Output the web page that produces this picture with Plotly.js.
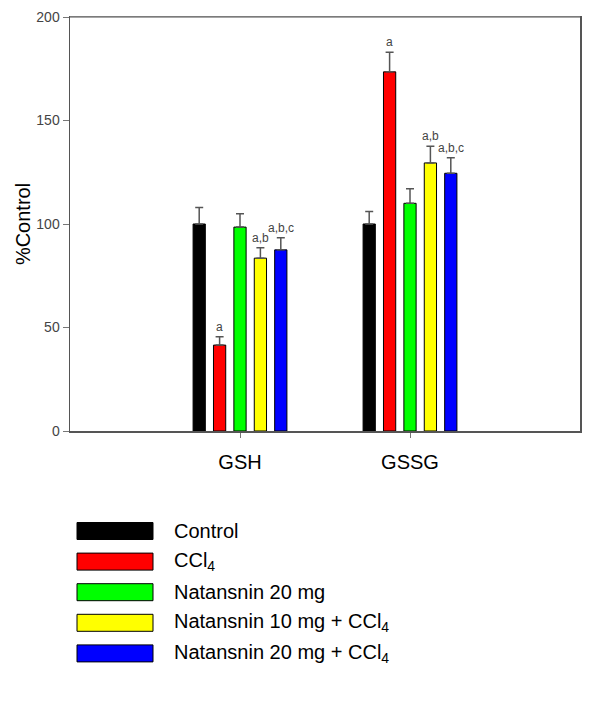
<!DOCTYPE html>
<html>
<head>
<meta charset="utf-8">
<script src="https://cdn.plot.ly/plotly-3.0.1.min.js"></script>
<style>html,body{margin:0;padding:0;background:#fff;}#chart{width:600px;height:709px;}</style>
</head>
<body>
<div id="chart"></div>
<script>
// ---- data ----
const categories = ["GSH", "GSSG"];
const seriesNames = ["Control", "CCl<sub>4</sub>", "Natansnin 20 mg", "Natansnin 10 mg + CCl<sub>4</sub>", "Natansnin 20 mg + CCl<sub>4</sub>"];
const control = [100, 100];
const ccl4 = [41.5, 173.5];
const nat20 = [98.5, 110];
const nat10ccl4 = [83.5, 129.5];
const nat20ccl4 = [87.5, 124.5];
const controlErr = [8, 6];
const ccl4Err = [4, 9.5];
const nat20Err = [6.5, 7];
const nat10ccl4Err = [5, 8];
const nat20ccl4Err = [5.8, 7.5];
const controlSig = ["", ""];
const ccl4Sig = ["a", "a"];
const nat20Sig = ["", ""];
const nat10ccl4Sig = ["a,b", "a,b"];
const nat20ccl4Sig = ["a,b,c", "a,b,c"];
const yTickVals = [0, 50, 100, 150, 200];

// ---- styles ----
const colors = ["#000000", "#ff0000", "#00ff00", "#ffff00", "#0000ff"];
const values = [control, ccl4, nat20, nat10ccl4, nat20ccl4];
const errs = [controlErr, ccl4Err, nat20Err, nat10ccl4Err, nat20ccl4Err];
const sigs = [controlSig, ccl4Sig, nat20Sig, nat10ccl4Sig, nat20ccl4Sig];
const FONT = "Liberation Sans, Arial, sans-serif";
const bargap = 0.4, bargroupgap = 0.4;

const traces = values.map((v, i) => ({
  type: "bar",
  x: categories,
  y: v,
  name: seriesNames[i],
  marker: {color: colors[i], line: {color: "#000", width: 1}},
  error_y: {type: "data", array: errs[i], arrayminus: errs[i].map(() => 0), symmetric: false,
            color: "#555", thickness: 1.5, width: 4},
  showlegend: false,
  hoverinfo: "none"
}));

const n = values.length;
const slot = (1 - bargap) / n;
const annotations = [];
values.forEach((v, i) => {
  v.forEach((val, c) => {
    if (!sigs[i][c]) return;
    annotations.push({
      xref: "x", yref: "y",
      x: c + (i - (n - 1) / 2) * slot,
      y: val + errs[i][c],
      text: sigs[i][c], showarrow: false,
      yanchor: "bottom", yshift: 1,
      font: {family: FONT, size: 12, color: "#444"}
    });
  });
});

// custom legend (paper coords relative to plot area)
const plotL = 70, plotR = 580, plotT = 17, plotB = 431;
const px2x = p => (p - plotL) / (plotR - plotL);
const py2y = p => (plotB - p) / (plotB - plotT);
const shapes = [];
seriesNames.forEach((name, i) => {
  const cy = 531 + i * 30.6;
  shapes.push({type: "rect", xref: "paper", yref: "paper",
    x0: px2x(77), x1: px2x(153), y0: py2y(cy + 8.5), y1: py2y(cy - 8.5),
    fillcolor: colors[i], line: {color: "#000", width: 1}});
  annotations.push({xref: "paper", yref: "paper", x: px2x(172), y: py2y(cy),
    xanchor: "left", yanchor: "middle", text: name, showarrow: false,
    font: {family: FONT, size: 20, color: "#000"}});
});
// lighter top frame line
shapes.push({type: "line", xref: "paper", yref: "paper", x0: 0, x1: 1, y0: 1, y1: 1,
  line: {color: "#888", width: 1.5}});

const layout = {
  width: 600, height: 709,
  margin: {l: plotL, r: 600 - plotR, t: plotT, b: 709 - plotB},
  paper_bgcolor: "#fff", plot_bgcolor: "#fff",
  barmode: "group", bargap: bargap, bargroupgap: bargroupgap,
  font: {family: FONT},
  xaxis: {
    type: "category", range: [-1, 2],
    showline: true, linecolor: "#555", linewidth: 1.5, mirror: true,
    ticks: "outside", ticklen: 5, tickcolor: "#777",
    ticklabelstandoff: 7,
    tickfont: {family: FONT, size: 20, color: "#000"},
    showgrid: false, zeroline: false, fixedrange: true
  },
  yaxis: {
    range: [0, 200], tickvals: yTickVals,
    showline: true, linecolor: "#555", linewidth: 1.5, mirror: true,
    ticks: "outside", ticklen: 6, tickcolor: "#777",
    tickfont: {family: FONT, size: 14, color: "#444"},
    showgrid: false, zeroline: false, fixedrange: true,
    title: {text: "%Control", font: {family: FONT, size: 20, color: "#000"}, standoff: 0}
  },
  shapes: shapes,
  annotations: annotations
};

Plotly.newPlot("chart", traces, layout, {staticPlot: true, displayModeBar: false});
</script>
</body>
</html>
